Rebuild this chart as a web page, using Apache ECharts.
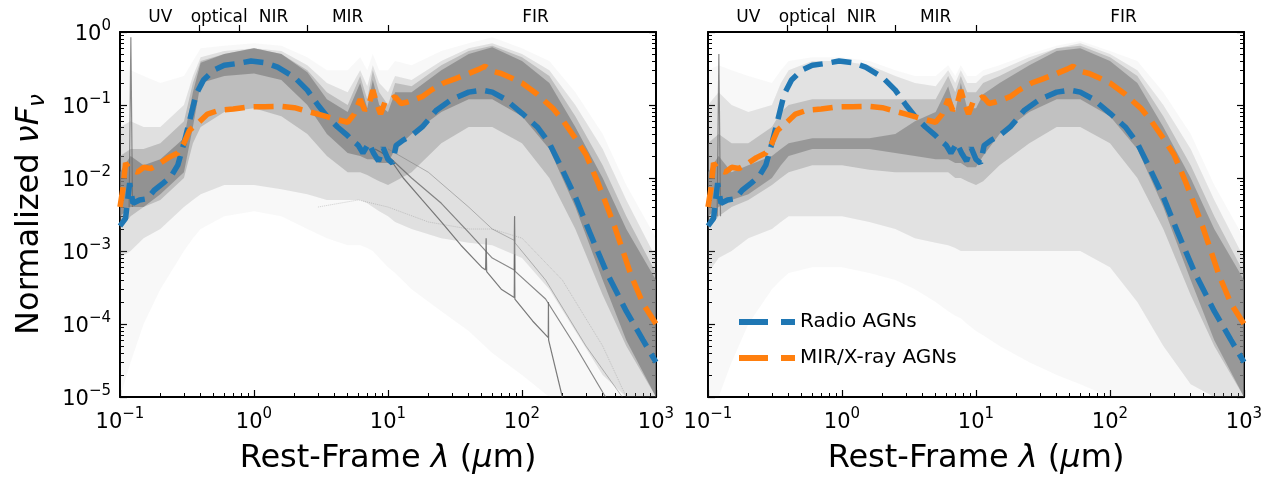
<!DOCTYPE html>
<html>
<head>
<meta charset="utf-8">
<script src="https://cdn.jsdelivr.net/npm/echarts@6/dist/echarts.min.js"></script>
<style>
  html, body { margin: 0; padding: 0; background: #fff; }
  #chart { width: 1278px; height: 477px; }
</style>
</head>
<body>
<div id="chart"></div>
<script>
// ---- data -------------------------------------------------------------
// wavelength grid (µm) shared by the template envelopes
const lam = [0.1, 0.12, 0.15, 0.2, 0.3, 0.35, 0.4, 0.6, 1, 1.6, 2.5, 3.5, 5, 6.2, 7, 7.7, 8.6, 10, 11.3, 15, 25, 40, 60, 100, 160, 250, 400, 600, 1000];

// left panel: envelopes of the individual template SEDs
const leftFaintUp  = [0.3, 0.3, 0.25, 0.2, 0.25, 0.4, 0.6, 0.65, 0.7, 0.65, 0.45, 0.3, 0.3, 0.45, 0.3, 0.5, 0.3, 0.3, 0.4, 0.35, 0.55, 0.7, 0.85, 0.6, 0.4, 0.15, 0.04, 0.008, 0.0015];
const leftFaintLo  = [1e-5, 3e-5, 1e-4, 3e-4, 1e-3, 1.5e-3, 2e-3, 3e-3, 3.5e-3, 3e-3, 2e-3, 1.5e-3, 1.2e-3, 1.2e-3, 1.1e-3, 1e-3, 8e-4, 6e-4, 5e-4, 3e-4, 1.5e-4, 8e-5, 4e-5, 2e-5, 1e-5, 1e-5, 1e-5, 1e-5, 1e-5];
const leftMidUp    = [0.05, 0.06, 0.05, 0.05, 0.1, 0.25, 0.45, 0.55, 0.6, 0.55, 0.35, 0.2, 0.15, 0.3, 0.18, 0.35, 0.2, 0.15, 0.25, 0.22, 0.4, 0.6, 0.7, 0.5, 0.3, 0.1, 0.025, 0.005, 8e-4];
const leftMidLo    = [8e-4, 1e-3, 1.5e-3, 2e-3, 4e-3, 5e-3, 6e-3, 8e-3, 8e-3, 7e-3, 6e-3, 5e-3, 5e-3, 5e-3, 4.5e-3, 4e-3, 3.5e-3, 3e-3, 2.5e-3, 2e-3, 1.5e-3, 1.3e-3, 1.2e-3, 8e-4, 3e-4, 8e-5, 2e-5, 1e-5, 1e-5];
const leftDenseUp  = [0.02, 0.025, 0.025, 0.03, 0.06, 0.2, 0.4, 0.5, 0.6, 0.5, 0.3, 0.15, 0.1, 0.25, 0.12, 0.3, 0.15, 0.1, 0.2, 0.18, 0.35, 0.55, 0.65, 0.45, 0.25, 0.07, 0.015, 0.003, 5e-4];
const leftDenseLo  = [0.002, 0.003, 0.004, 0.005, 0.01, 0.03, 0.05, 0.08, 0.09, 0.07, 0.04, 0.02, 0.012, 0.012, 0.011, 0.01, 0.009, 0.008, 0.009, 0.012, 0.03, 0.05, 0.05, 0.03, 0.01, 0.002, 2.5e-4, 5e-5, 1e-5];
const leftCoreUp   = [0.012, 0.02, 0.015, 0.018, 0.035, 0.15, 0.38, 0.5, 0.6, 0.5, 0.28, 0.12, 0.08, 0.2, 0.09, 0.22, 0.1, 0.08, 0.15, 0.15, 0.3, 0.5, 0.62, 0.4, 0.2, 0.05, 0.01, 0.002, 4e-4];
const leftCoreLo   = [0.003, 0.004, 0.004, 0.006, 0.012, 0.05, 0.2, 0.25, 0.27, 0.22, 0.1, 0.04, 0.022, 0.02, 0.018, 0.018, 0.016, 0.016, 0.025, 0.04, 0.08, 0.12, 0.12, 0.07, 0.025, 0.004, 4e-4, 6e-5, 1e-5];

// right panel: envelopes of the individual template SEDs
const rightFaintUp = [0.3, 0.35, 0.3, 0.25, 0.2, 0.3, 0.4, 0.45, 0.45, 0.4, 0.3, 0.25, 0.25, 0.35, 0.25, 0.35, 0.25, 0.25, 0.3, 0.35, 0.5, 0.65, 0.75, 0.55, 0.4, 0.15, 0.04, 0.008, 0.0015];
const rightFaintLo = [1e-5, 1e-5, 3e-5, 1e-4, 3e-4, 4e-4, 5e-4, 6e-4, 6e-4, 5e-4, 4e-4, 3e-4, 2e-4, 1.5e-4, 1.3e-4, 1.2e-4, 1e-4, 8e-5, 7e-5, 5e-5, 3e-5, 2e-5, 1.5e-5, 1e-5, 1e-5, 1e-5, 1e-5, 1e-5, 1e-5];
const rightMidUp   = [0.1, 0.15, 0.1, 0.08, 0.1, 0.2, 0.3, 0.4, 0.4, 0.35, 0.25, 0.2, 0.18, 0.3, 0.2, 0.3, 0.2, 0.2, 0.25, 0.3, 0.45, 0.6, 0.7, 0.5, 0.3, 0.1, 0.025, 0.005, 8e-4];
const rightMidLo   = [5e-4, 8e-4, 1e-3, 1.5e-3, 2e-3, 2.5e-3, 3e-3, 3e-3, 3e-3, 2.5e-3, 2e-3, 1.5e-3, 1.3e-3, 1.2e-3, 1.1e-3, 1e-3, 1e-3, 1e-3, 1e-3, 1e-3, 1e-3, 1e-3, 1e-3, 6e-4, 2e-4, 5e-5, 1.5e-5, 1e-5, 1e-5];
const rightDenseUp = [0.03, 0.04, 0.03, 0.03, 0.05, 0.08, 0.1, 0.12, 0.12, 0.12, 0.12, 0.12, 0.12, 0.25, 0.15, 0.25, 0.15, 0.15, 0.2, 0.25, 0.4, 0.6, 0.65, 0.45, 0.25, 0.07, 0.015, 0.003, 5e-4];
const rightDenseLo = [0.002, 0.003, 0.004, 0.005, 0.008, 0.01, 0.012, 0.015, 0.015, 0.013, 0.012, 0.012, 0.012, 0.012, 0.01, 0.01, 0.009, 0.008, 0.009, 0.015, 0.03, 0.05, 0.05, 0.03, 0.01, 0.002, 2.5e-4, 5e-5, 1e-5];
const rightCoreUp  = [0.012, 0.02, 0.012, 0.015, 0.02, 0.025, 0.03, 0.035, 0.035, 0.035, 0.04, 0.06, 0.08, 0.18, 0.08, 0.2, 0.09, 0.09, 0.14, 0.2, 0.35, 0.55, 0.6, 0.4, 0.2, 0.05, 0.01, 0.002, 4e-4];
const rightCoreLo  = [0.003, 0.004, 0.005, 0.006, 0.01, 0.015, 0.02, 0.025, 0.025, 0.025, 0.022, 0.02, 0.018, 0.018, 0.016, 0.016, 0.014, 0.014, 0.02, 0.04, 0.08, 0.12, 0.12, 0.07, 0.025, 0.004, 4e-4, 6e-5, 1e-5];

// individual AGN-dominated templates falling off through the FIR (left panel)
const agnTemplateA = [[8, 0.025], [10, 0.02], [13, 0.01], [18, 0.005], [25, 0.0025], [35, 0.0012], [50, 6e-4], [53.5, 5.5e-4], [54, 1.5e-3], [54.5, 5.2e-4], [70, 3e-4], [87.5, 2.3e-4], [88, 9e-4], [88.5, 2.2e-4], [120, 1.1e-4], [157, 6.5e-5], [157.5, 2e-4], [158, 6e-5], [200, 1e-5]];
const agnTemplateB = [[9, 0.022], [10, 0.02], [15, 0.01], [25, 0.0045], [40, 1.8e-3], [60, 8e-4], [87.5, 5.5e-4], [88, 3e-3], [88.5, 5.3e-4], [150, 2.2e-4], [250, 5e-5], [420, 1e-5]];
const agnTemplateC = [[10, 0.025], [20, 0.012], [40, 4e-3], [60, 2e-3], [87.5, 1.4e-3], [88, 3e-3], [88.5, 1.3e-3], [150, 4e-4], [300, 5e-5], [560, 1e-5]];
const weakFirTemplate = [[3, 4e-3], [6, 5e-3], [10, 4e-3], [20, 2.5e-3], [40, 2e-3], [60, 2e-3], [100, 1.5e-3], [200, 4e-4], [400, 5e-5], [600, 1e-5]];
// Lyman-alpha spike near 0.12 µm
const lyaSpikeLeft  = [[0.117, 0.004], [0.1205, 0.85], [0.124, 0.004]];
const lyaSpikeRight = [[0.117, 0.003], [0.1205, 0.5], [0.124, 0.003]];

// median SEDs of the two samples, [λ (µm), νFν]
const radioMedian = [[0.1, 0.0022], [0.11, 0.0028], [0.118, 0.0085], [0.125, 0.0045], [0.14, 0.005], [0.16, 0.0052], [0.18, 0.0068], [0.21, 0.0085], [0.24, 0.0105], [0.27, 0.015], [0.3, 0.03], [0.33, 0.06], [0.37, 0.14], [0.42, 0.22], [0.5, 0.3], [0.6, 0.35], [0.75, 0.37], [0.95, 0.4], [1.2, 0.38], [1.5, 0.33], [2.0, 0.24], [2.5, 0.16], [3.0, 0.1], [3.5, 0.07], [4.2, 0.05], [5.0, 0.038], [5.5, 0.032], [6.0, 0.028], [6.5, 0.022], [7.2, 0.03], [7.8, 0.022], [8.5, 0.017], [9.2, 0.026], [10, 0.018], [10.8, 0.016], [11.5, 0.028], [13, 0.033], [15, 0.038], [18, 0.05], [23, 0.085], [30, 0.12], [40, 0.15], [50, 0.16], [60, 0.15], [75, 0.12], [100, 0.077], [130, 0.05], [160, 0.03], [200, 0.013], [250, 0.0055], [320, 0.0018], [430, 5e-4], [600, 1.5e-4], [800, 6e-5], [1000, 3e-5]];
const mirxMedian  = [[0.1, 0.004], [0.105, 0.007], [0.11, 0.016], [0.12, 0.013], [0.135, 0.012], [0.15, 0.014], [0.17, 0.0135], [0.2, 0.016], [0.23, 0.019], [0.27, 0.022], [0.3, 0.03], [0.33, 0.045], [0.38, 0.056], [0.45, 0.075], [0.55, 0.085], [0.7, 0.088], [0.9, 0.094], [1.2, 0.095], [1.6, 0.096], [2.0, 0.092], [2.5, 0.082], [3.0, 0.075], [3.6, 0.068], [4.2, 0.063], [5.0, 0.058], [5.6, 0.075], [6.2, 0.12], [6.7, 0.085], [7.2, 0.1], [7.7, 0.16], [8.3, 0.1], [8.8, 0.075], [9.5, 0.11], [10.5, 0.12], [11.3, 0.13], [12.5, 0.105], [14, 0.11], [16, 0.12], [18, 0.13], [21, 0.16], [26, 0.2], [32, 0.23], [40, 0.27], [48, 0.31], [53, 0.34], [60, 0.29], [70, 0.27], [85, 0.23], [100, 0.2], [130, 0.14], [170, 0.09], [200, 0.063], [250, 0.035], [300, 0.021], [370, 0.0085], [490, 0.0022], [650, 4.7e-4], [800, 1.9e-4], [1000, 1.0e-4]];

// axes: ticks and band labels
const xMajor = [0.1, 1, 10, 100, 1000];
const xMinor = [0.2, 0.3, 0.4, 0.5, 0.6, 0.7, 0.8, 0.9, 2, 3, 4, 5, 6, 7, 8, 9, 20, 30, 40, 50, 60, 70, 80, 90, 200, 300, 400, 500, 600, 700, 800, 900];
const yMajor = [1e-5, 1e-4, 1e-3, 1e-2, 1e-1, 1];
const yMinor = [];
[1e-5, 1e-4, 1e-3, 1e-2, 1e-1].forEach(d => { for (let k = 2; k <= 9; k++) yMinor.push(+(k * d).toPrecision(3)); });
const bandEdges   = [0.39, 0.77, 2.5, 10];
const bandCenters = [0.2, 0.55, 1.4, 5, 126];
const bandNames   = ['UV', 'optical', 'NIR', 'MIR', 'FIR'];
const seriesNames = ['Radio AGNs', 'MIR/X-ray AGNs'];

// ---- chart ------------------------------------------------------------
const FONT = 'DejaVu Sans';
const BLUE = '#1f77b4', ORANGE = '#ff7f0e';
const panels = [
  { left: 120, bands: [[leftFaintUp, leftFaintLo, 0.06], [leftMidUp, leftMidLo, 0.2], [leftDenseUp, leftDenseLo, 0.36], [leftCoreUp, leftCoreLo, 0.7]], spike: lyaSpikeLeft },
  { left: 708, bands: [[rightFaintUp, rightFaintLo, 0.06], [rightMidUp, rightMidLo, 0.18], [rightDenseUp, rightDenseLo, 0.34], [rightCoreUp, rightCoreLo, 0.62]], spike: lyaSpikeRight }
];

function expLabel(v) {
  const e = Math.round(Math.log10(v));
  const s = e < 0 ? '\u2212' + (-e) : String(e);
  return '{b|10}{s|' + s + '}';
}
const tickRich = {
  b: { fontSize: 21, fontFamily: FONT, color: '#000', lineHeight: 26, verticalAlign: 'bottom' },
  s: { fontSize: 15, fontFamily: FONT, color: '#000', lineHeight: 12, verticalAlign: 'top' }
};
const black = { color: '#000', width: 2 };

const grids = [], xAxes = [], yAxes = [], series = [];
panels.forEach((p, gi) => {
  grids.push({ left: p.left, top: 32, width: 536, height: 365, containLabel: false, outerBoundsMode: 'none' });
  const base = { type: 'log', gridIndex: gi, logBase: 10, splitLine: { show: false } };
  // bottom: decades with labels
  xAxes.push(Object.assign({}, base, {
    min: 0.1, max: 1000, position: 'bottom',
    axisLine: { show: true, lineStyle: black },
    axisTick: { show: true, inside: true, length: 7, lineStyle: { color: '#000', width: 1.2 }, customValues: xMajor },
    axisLabel: { show: true, customValues: xMajor, formatter: expLabel, rich: tickRich, margin: 10 },
    name: '{t|Rest-Frame }{i|\u03bb}{t| (}{i|\u03bc}{t|m)}', nameLocation: 'middle', nameGap: 46,
    nameTextStyle: { rich: { t: { fontSize: 32, fontFamily: FONT, color: '#000' }, i: { fontSize: 32, fontFamily: FONT, fontStyle: 'italic', color: '#000' } } }
  }));
  // bottom: minor ticks
  xAxes.push(Object.assign({}, base, {
    min: 0.1, max: 1000, position: 'bottom',
    axisLine: { show: false },
    axisTick: { show: true, inside: true, length: 4, lineStyle: { color: '#000', width: 1 }, customValues: xMinor },
    axisLabel: { show: false }
  }));
  // top: spectral regions
  xAxes.push(Object.assign({}, base, {
    min: 0.1, max: 1000, position: 'top',
    axisLine: { show: true, lineStyle: black },
    axisTick: { show: true, inside: false, length: 7, lineStyle: { color: '#000', width: 1.2 }, customValues: bandEdges },
    axisLabel: {
      show: true, customValues: bandCenters, margin: 6, fontSize: 17, fontFamily: FONT, color: '#000',
      formatter: v => { let k = 0, d = 1e9; bandCenters.forEach((c, i) => { const dd = Math.abs(Math.log(c / v)); if (dd < d) { d = dd; k = i; } }); return bandNames[k]; }
    }
  }));
  const yb = Object.assign({}, base, { min: 1e-5, max: 1 });
  yAxes.push(Object.assign({}, yb, {
    position: 'left',
    axisLine: { show: true, lineStyle: black },
    axisTick: { show: true, inside: true, length: 7, lineStyle: { color: '#000', width: 1.2 }, customValues: yMajor },
    axisLabel: { show: gi === 0, customValues: yMajor, formatter: expLabel, rich: tickRich, margin: 9 },
    name: gi === 0 ? '{t|Normalized }{i|\u03bdF}{u|\u03bd}' : '', nameLocation: 'middle', nameGap: 70, nameRotate: 90,
    nameTextStyle: { rich: {
      t: { fontSize: 32, fontFamily: FONT, color: '#000', lineHeight: 40 },
      i: { fontSize: 32, fontFamily: FONT, fontStyle: 'italic', color: '#000', lineHeight: 40 },
      u: { fontSize: 23, fontFamily: FONT, fontStyle: 'italic', color: '#000', lineHeight: 18, verticalAlign: 'bottom' }
    } }
  }));
  yAxes.push(Object.assign({}, yb, {
    position: 'left', axisLine: { show: false },
    axisTick: { show: true, inside: true, length: 4, lineStyle: { color: '#000', width: 1 }, customValues: yMinor },
    axisLabel: { show: false }
  }));
  yAxes.push(Object.assign({}, yb, {
    position: 'right', axisLine: { show: true, lineStyle: black },
    axisTick: { show: true, inside: true, length: 7, lineStyle: { color: '#000', width: 1.2 }, customValues: yMajor },
    axisLabel: { show: false }
  }));
  yAxes.push(Object.assign({}, yb, {
    position: 'right', axisLine: { show: false },
    axisTick: { show: true, inside: true, length: 4, lineStyle: { color: '#000', width: 1 }, customValues: yMinor },
    axisLabel: { show: false }
  }));

  const xi = gi * 3, yi = gi * 4;
  // shaded envelopes of the template cloud
  p.bands.forEach(([up, lo, a]) => {
    series.push({
      type: 'custom', xAxisIndex: xi, yAxisIndex: yi, silent: true, z: 1, data: [[1, 0.01]],
      renderItem: (params, api) => {
        const pts = [];
        for (let i = 0; i < lam.length; i++) pts.push(api.coord([lam[i], up[i]]));
        for (let i = lam.length - 1; i >= 0; i--) pts.push(api.coord([lam[i], lo[i]]));
        return { type: 'polygon', shape: { points: pts }, style: { fill: 'rgba(128,128,128,' + a + ')' } };
      }
    });
  });
  const grayLine = (data, color, width, type) => ({
    type: 'line', xAxisIndex: xi, yAxisIndex: yi, data, symbol: 'none', silent: true, z: 2,
    lineStyle: { color, width, type: type || 'solid' }
  });
  series.push(grayLine(p.spike, 'rgba(110,110,110,0.8)', 1.2));
  if (gi === 0) {
    series.push(grayLine(agnTemplateA, 'rgba(100,100,100,0.85)', 1.2));
    series.push(grayLine(agnTemplateB, 'rgba(100,100,100,0.75)', 1.2));
    series.push(grayLine(agnTemplateC, 'rgba(120,120,120,0.5)', 1));
    series.push(grayLine(weakFirTemplate, 'rgba(128,128,128,0.35)', 1, 'dotted'));
  }
  // median SEDs
  series.push({
    name: seriesNames[0], type: 'line', xAxisIndex: xi, yAxisIndex: yi, data: radioMedian, symbol: 'none', z: 5,
    lineStyle: { color: BLUE, width: 5.5, type: [20, 9] }, itemStyle: { color: BLUE }
  });
  series.push({
    name: seriesNames[1], type: 'line', xAxisIndex: xi, yAxisIndex: yi, data: mirxMedian, symbol: 'none', z: 6,
    lineStyle: { color: ORANGE, width: 5.5, type: [20, 9] }, itemStyle: { color: ORANGE }
  });
});

const chart = echarts.init(document.getElementById('chart'), null, { renderer: 'canvas' });
chart.setOption({
  animation: false,
  backgroundColor: '#fff',
  grid: grids,
  xAxis: xAxes,
  yAxis: yAxes,
  legend: {
    data: seriesNames, orient: 'vertical', left: 731, top: 307, itemWidth: 56, itemHeight: 14, itemGap: 16,
    lineStyle: { width: 6, type: [29, 13] },
    itemStyle: { opacity: 0 },
    textStyle: { fontSize: 20, fontFamily: FONT, color: '#000' }
  },
  series
});
</script>
</body>
</html>
